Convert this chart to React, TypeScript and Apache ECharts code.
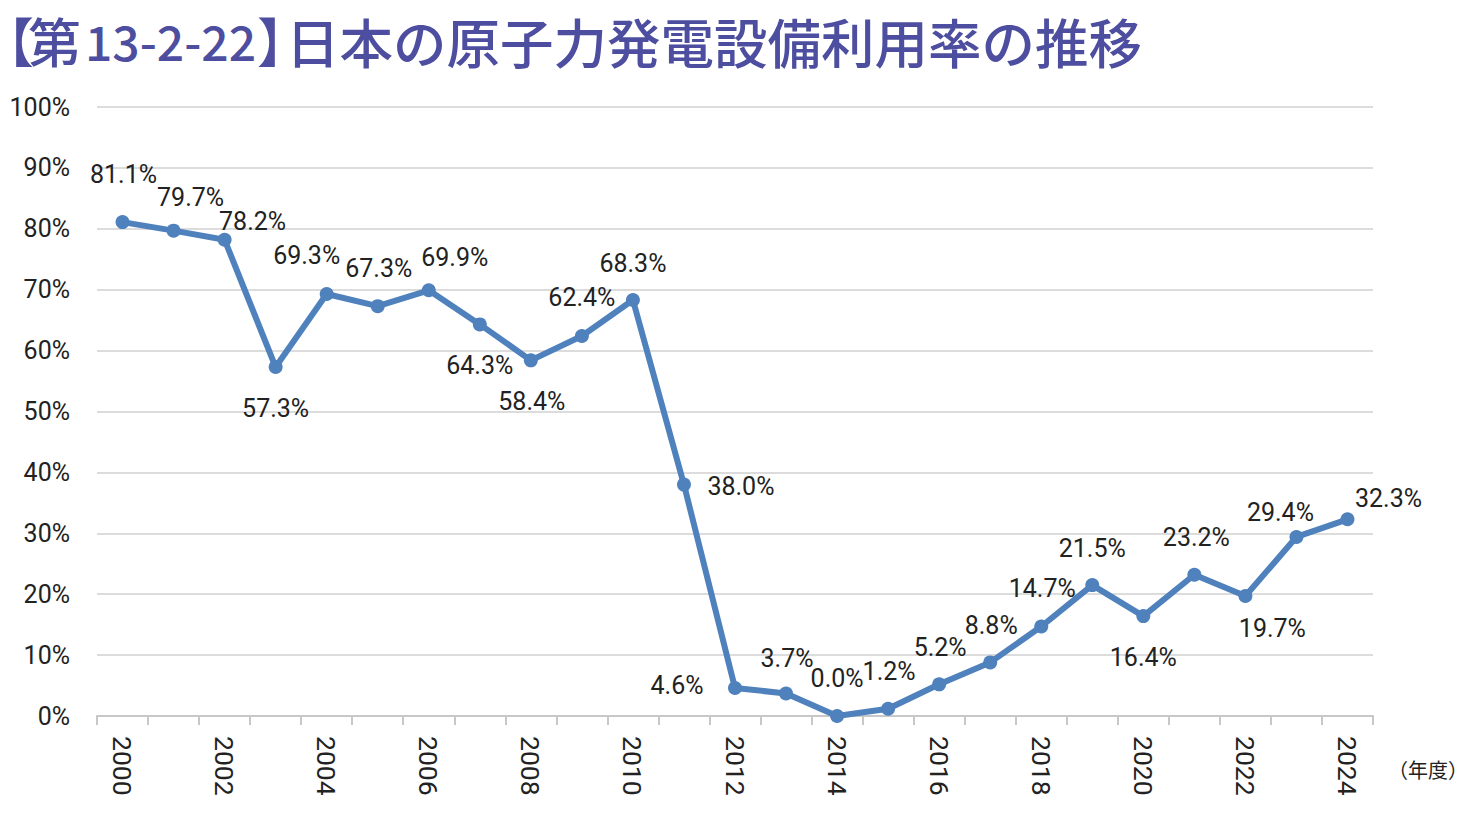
import React, { useEffect, useRef } from "react";
import * as echarts from "echarts";

const years = [
  "2000","2001","2002","2003","2004","2005","2006","2007","2008","2009",
  "2010","2011","2012","2013","2014","2015","2016","2017","2018","2019",
  "2020","2021","2022","2023","2024",
];
const rates = [
  81.1, 79.7, 78.2, 57.3, 69.3, 67.3, 69.9, 64.3, 58.4, 62.4,
  68.3, 38.0, 4.6, 3.7, 0.0, 1.2, 5.2, 8.8, 14.7, 21.5,
  16.4, 23.2, 19.7, 29.4, 32.3,
];
const yTicks = [0, 10, 20, 30, 40, 50, 60, 70, 80, 90, 100];
const titleOpen = "【";
const titleNum = "第";
const titleCode = "13-2-22";
const titleClose = "】";
const titleMain = "日本の原子力発電設備利用率の推移";
const unitText = "（年度）";

// label center offsets relative to each point (style only)
const labelOffsets: [number, number][] = [
  [1, -48], [17, -33], [28, -18], [0, 41], [-20, -38], [1, -38], [26, -33],
  [0, 41], [1, 41], [0, -38], [0, -37], [57, 2], [-58, -2], [1, -35],
  [0, -38], [1, -37], [1, -37], [1, -37], [1, -38], [0, -37], [0, 41],
  [2, -37], [27, 32], [-16, -24], [41, -21],
];

const FONT = "Roboto, 'Liberation Sans', Arial, sans-serif";
const CJK = "'Noto Sans CJK JP', sans-serif";
const TITLE_COLOR = "#4D4E9F";

export default function App() {
  const ref = useRef<HTMLDivElement>(null);
  useEffect(() => {
    if (!ref.current) return;
    const chart = echarts.init(ref.current, null, { renderer: "svg" });
    const tStyle = (text: string, size: number) => ({
      text,
      font: `500 ${size}px ${CJK}`,
      fill: TITLE_COLOR,
      textVerticalAlign: "middle",
    });
    chart.setOption({
      animation: false,
      backgroundColor: "#ffffff",
      graphic: [
        { type: "text", x: -19, y: 40, style: tStyle(titleOpen, 53) },
        { type: "text", x: 28, y: 40, style: tStyle(titleNum, 53) },
        { type: "text", x: 85, y: 40, style: tStyle(titleCode, 48) },
        { type: "text", x: 257, y: 40, style: tStyle(titleClose, 53) },
        { type: "text", x: 286, y: 40, style: tStyle(titleMain, 53.5) },
        {
          type: "text",
          x: 1388,
          y: 769,
          style: {
            text: unitText,
            font: `20px ${CJK}`,
            fill: "#222222",
            textVerticalAlign: "middle",
          },
        },
      ],
      grid: {
        left: 97,
        right: 98,
        top: 107,
        bottom: 97,
        containLabel: false,
        outerBoundsMode: "none",
      },
      xAxis: {
        type: "category",
        data: years,
        boundaryGap: true,
        axisLine: { show: true, lineStyle: { color: "#c8c8c8", width: 2 } },
        axisTick: { show: true, interval: 0, length: 9, lineStyle: { color: "#c8c8c8", width: 2 } },
        axisLabel: {
          interval: 1,
          rotate: -90,
          margin: 20,
          fontSize: 26.5,
          fontFamily: FONT,
          color: "#222222",
        },
      },
      yAxis: {
        type: "value",
        min: 0,
        max: 100,
        interval: 10,
        axisLine: { show: false },
        axisTick: { show: false },
        splitLine: { lineStyle: { color: "#dcdcdc", width: 2 } },
        axisLabel: {
          margin: 27,
          fontSize: 25,
          fontFamily: FONT,
          color: "#222222",
          formatter: (v: number) => (yTicks.includes(v) ? `${v}%` : ""),
        },
      },
      series: [
        {
          type: "line",
          data: rates.map((v, i) => ({
            value: v,
            label: { offset: labelOffsets[i] },
          })),
          symbol: "circle",
          symbolSize: 14,
          lineStyle: { color: "#4F81BD", width: 6 },
          itemStyle: { color: "#4F81BD" },
          label: {
            show: true,
            position: "inside",
            fontSize: 25,
            fontFamily: FONT,
            color: "#222222",
            formatter: (p: any) => `${Number(p.value).toFixed(1)}%`,
          },
          z: 3,
        },
      ],
    });
    return () => chart.dispose();
  }, []);
  return (
    <div
      ref={ref}
      style={{ position: "fixed", left: 0, top: 0, width: 1471, height: 813 }}
    />
  );
}
